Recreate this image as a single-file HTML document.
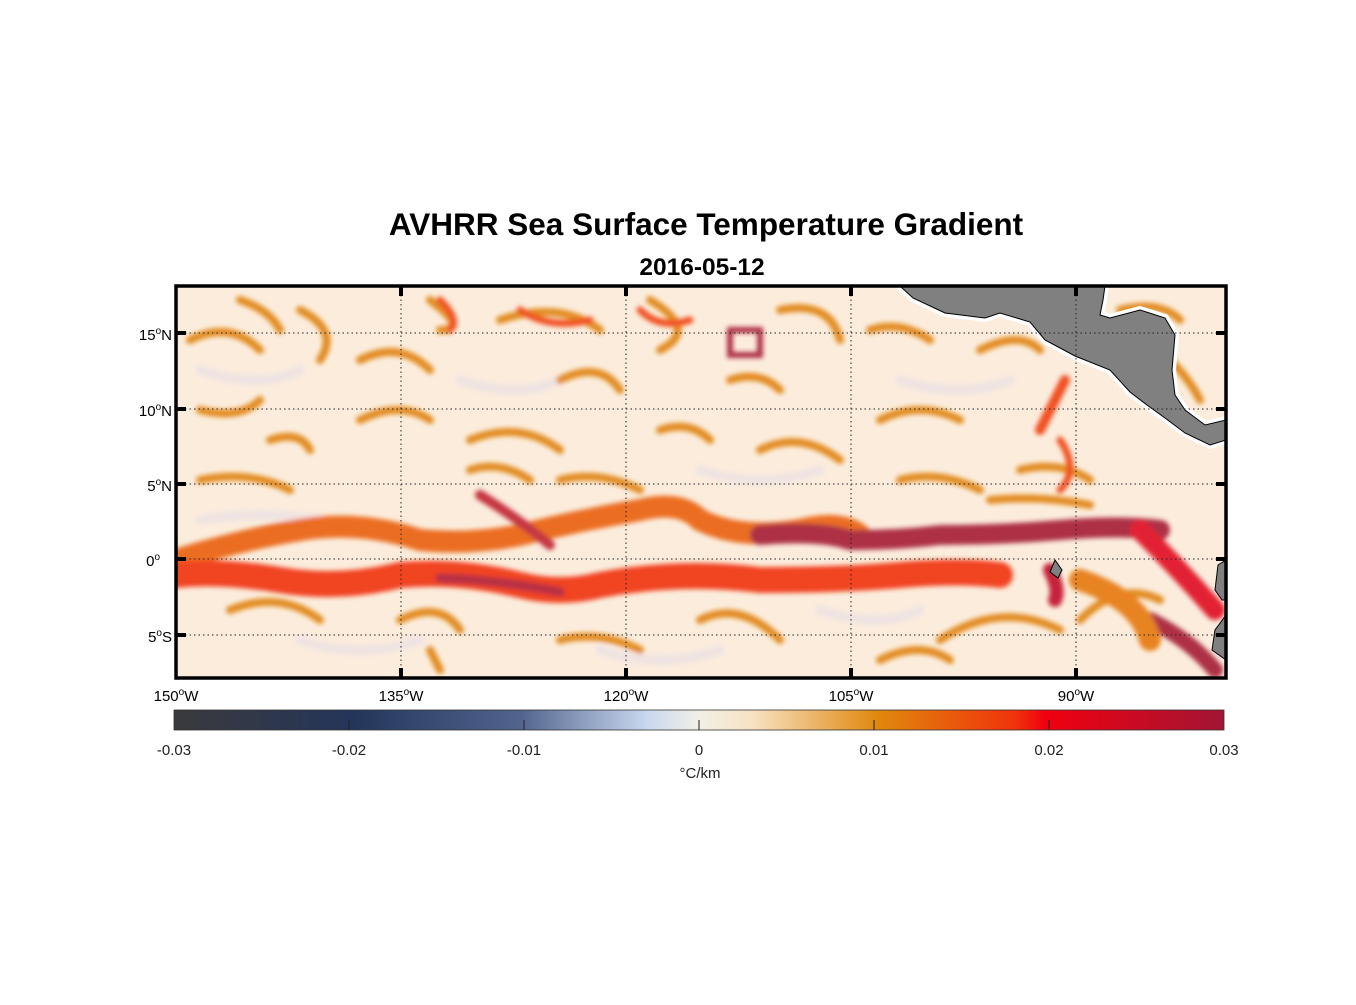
<!DOCTYPE html>
<html><head><meta charset="utf-8"><style>
body{margin:0;background:#fff;width:1356px;height:1000px;overflow:hidden;font-family:"Liberation Sans",sans-serif}
</style></head><body>
<svg width="1356" height="1000" xmlns="http://www.w3.org/2000/svg" font-family="Liberation Sans, sans-serif">
<defs>
<filter id="b" x="-10%" y="-50%" width="120%" height="200%"><feGaussianBlur stdDeviation="2.5"/></filter>
<linearGradient id="cb" x1="0" x2="1">
<stop offset="0" stop-color="#3a3a3c"/><stop offset="0.17" stop-color="#24355a"/><stop offset="0.33" stop-color="#52648e"/>
<stop offset="0.45" stop-color="#c8d8ee"/><stop offset="0.5" stop-color="#f2efe6"/><stop offset="0.55" stop-color="#f7e2c4"/>
<stop offset="0.67" stop-color="#e0880e"/><stop offset="0.8" stop-color="#f0340a"/><stop offset="0.83" stop-color="#f00010"/>
<stop offset="1" stop-color="#a21535"/></linearGradient>
<clipPath id="c"><rect x="176" y="286" width="1050" height="392"/></clipPath>
</defs>
<text x="706" y="235" font-size="31.5" font-weight="bold" text-anchor="middle">AVHRR Sea Surface Temperature Gradient</text>
<text x="702" y="275" font-size="24.5" font-weight="bold" text-anchor="middle">2016-05-12</text>
<g clip-path="url(#c)">
<rect x="176" y="286" width="1050" height="392" fill="#fbecdc"/>
<g fill="none" stroke-linecap="round" filter="url(#b)" opacity="0.9">
<g stroke="#e8e0e6" stroke-width="10" opacity="0.7">
<path d="M200 370 Q260 390 300 370"/><path d="M460 380 Q520 400 560 380"/><path d="M700 470 Q760 490 820 470"/>
<path d="M900 380 Q960 400 1010 380"/><path d="M300 640 Q360 660 420 640"/><path d="M600 650 Q660 670 720 650"/>
<path d="M200 520 Q260 510 320 520"/><path d="M820 610 Q880 630 920 610"/>
</g>
<g stroke="#e0820f" stroke-width="8">
<path d="M190 340 Q230 320 260 350"/><path d="M300 310 Q340 330 320 360"/><path d="M430 300 Q470 330 440 330"/>
<path d="M500 320 Q560 300 600 330"/><path d="M650 300 Q700 330 660 350"/><path d="M780 310 Q830 300 840 340"/>
<path d="M200 410 Q240 420 260 400"/><path d="M270 440 Q300 430 310 450"/><path d="M360 420 Q400 400 430 420"/>
<path d="M470 440 Q520 420 560 450"/><path d="M660 430 Q690 420 710 440"/><path d="M760 450 Q800 430 840 460"/>
<path d="M880 420 Q920 400 960 420"/><path d="M980 350 Q1020 330 1040 350"/><path d="M1020 470 Q1060 460 1090 480"/>
<path d="M900 480 Q940 470 980 490"/><path d="M200 480 Q250 470 290 490"/><path d="M560 480 Q600 470 640 490"/>
<path d="M360 360 Q400 340 430 370"/><path d="M560 380 Q600 360 620 390"/><path d="M730 380 Q760 370 780 390"/>
<path d="M230 610 Q280 590 320 620"/><path d="M400 620 Q440 600 460 630"/><path d="M700 620 Q740 600 780 640"/>
<path d="M940 640 Q1000 600 1060 630"/><path d="M1080 620 Q1120 580 1160 600"/><path d="M880 660 Q920 640 950 660"/>
<path d="M430 650 L440 670"/><path d="M560 640 Q600 630 640 650"/>
<path d="M1120 310 Q1160 300 1180 320"/><path d="M1170 360 Q1190 380 1200 400"/><path d="M990 500 Q1040 495 1090 505"/>
<path d="M240 300 Q270 310 280 330"/><path d="M870 330 Q900 320 930 340"/><path d="M470 470 Q500 460 530 480"/>
</g>
<g stroke="#f04010" stroke-width="7">
<path d="M440 300 Q460 320 450 330"/><path d="M520 310 Q550 330 590 320"/><path d="M640 310 Q660 330 690 320"/>
<path d="M1040 430 L1065 380" stroke-width="10"/><path d="M1060 440 Q1080 470 1060 490"/>
</g>
<path d="M730 330 L760 330 L760 355 L730 355 Z" stroke="#a61b35" stroke-width="6"/>
<path d="M176 560 Q240 540 300 530 Q360 520 420 540 Q470 545 520 535 Q580 520 640 510 Q680 500 700 520 Q740 540 800 530 Q840 520 860 535" stroke="#ea6010" stroke-width="22"/>
<path d="M480 495 Q520 520 550 545" stroke="#c02030" stroke-width="10"/>
<path d="M760 535 Q820 530 850 540 Q900 540 940 535 Q1000 535 1060 530 Q1120 525 1160 530" stroke="#a51a36" stroke-width="20"/>
<path d="M176 575 Q220 570 280 580 Q340 590 400 575 Q460 570 520 585 Q560 595 600 585 Q680 570 760 580 Q840 580 900 575 Q960 570 1000 575" stroke="#f03010" stroke-width="26"/>
<path d="M440 578 Q500 580 560 592" stroke="#b01a34" stroke-width="9"/>
<path d="M1140 530 Q1180 570 1215 610" stroke="#e01020" stroke-width="20"/>
<path d="M1150 620 Q1190 640 1215 670" stroke="#a61b35" stroke-width="16"/>
<path d="M1050 570 Q1060 590 1055 600" stroke="#c0102a" stroke-width="14"/>
<path d="M1080 580 Q1140 600 1150 640" stroke="#e6780f" stroke-width="22"/>
</g>
<path d="M900 286 L913 298 L945 313 L985 318 L1000 313 L1030 322 L1045 340 L1075 356 L1110 370 L1130 392 L1147 405 L1165 418 L1185 433 L1210 445 L1226 440 L1226 420 L1205 425 L1185 410 L1175 395 L1172 370 L1175 335 L1165 318 L1140 310 L1110 318 L1100 315 L1103 300 L1105 286 Z" fill="#808080" stroke="#fff" stroke-width="8"/>
<path d="M900 286 L913 298 L945 313 L985 318 L1000 313 L1030 322 L1045 340 L1075 356 L1110 370 L1130 392 L1147 405 L1165 418 L1185 433 L1210 445 L1226 440 L1226 420 L1205 425 L1185 410 L1175 395 L1172 370 L1175 335 L1165 318 L1140 310 L1110 318 L1100 315 L1103 300 L1105 286 Z" fill="#808080" stroke="#000" stroke-width="1"/>
<path d="M1226 560 L1218 565 L1215 590 L1222 600 L1226 600 Z M1226 615 L1215 630 L1212 650 L1226 660 Z" fill="#808080" stroke="#000" stroke-width="1"/>
<path d="M1055 560 L1062 570 L1058 578 L1050 572 Z" fill="#808080" stroke="#000"/>
</g>
<g stroke="#222" stroke-width="1" stroke-dasharray="1.5,3">
<line x1="176" y1="333" x2="1226" y2="333"/><line x1="176" y1="409" x2="1226" y2="409"/><line x1="176" y1="484" x2="1226" y2="484"/>
<line x1="176" y1="559" x2="1226" y2="559"/><line x1="176" y1="635" x2="1226" y2="635"/>
<line x1="401" y1="286" x2="401" y2="678"/><line x1="626" y1="286" x2="626" y2="678"/><line x1="851" y1="286" x2="851" y2="678"/><line x1="1076" y1="286" x2="1076" y2="678"/>
</g>
<g stroke="#000" stroke-width="4">
<line x1="176" y1="333" x2="186" y2="333"/><line x1="176" y1="409" x2="186" y2="409"/><line x1="176" y1="484" x2="186" y2="484"/><line x1="176" y1="559" x2="186" y2="559"/><line x1="176" y1="635" x2="186" y2="635"/>
<line x1="1216" y1="333" x2="1226" y2="333"/><line x1="1216" y1="409" x2="1226" y2="409"/><line x1="1216" y1="484" x2="1226" y2="484"/><line x1="1216" y1="559" x2="1226" y2="559"/><line x1="1216" y1="635" x2="1226" y2="635"/>
<line x1="401" y1="286" x2="401" y2="296"/><line x1="626" y1="286" x2="626" y2="296"/><line x1="851" y1="286" x2="851" y2="296"/><line x1="1076" y1="286" x2="1076" y2="296"/>
<line x1="401" y1="668" x2="401" y2="678"/><line x1="626" y1="668" x2="626" y2="678"/><line x1="851" y1="668" x2="851" y2="678"/><line x1="1076" y1="668" x2="1076" y2="678"/>
</g>
<rect x="176" y="286" width="1050" height="392" fill="none" stroke="#000" stroke-width="3.5"/>
<g font-size="15" text-anchor="end">
<text x="172" y="340">15<tspan dy="-6" font-size="10">o</tspan><tspan dy="6">N</tspan></text>
<text x="172" y="416">10<tspan dy="-6" font-size="10">o</tspan><tspan dy="6">N</tspan></text>
<text x="172" y="491">5<tspan dy="-6" font-size="10">o</tspan><tspan dy="6">N</tspan></text>
<text x="160" y="566">0<tspan dy="-6" font-size="10">o</tspan></text>
<text x="172" y="642">5<tspan dy="-6" font-size="10">o</tspan><tspan dy="6">S</tspan></text>
</g>
<g font-size="15" text-anchor="middle">
<text x="176" y="701">150<tspan dy="-6" font-size="10">o</tspan><tspan dy="6">W</tspan></text>
<text x="401" y="701">135<tspan dy="-6" font-size="10">o</tspan><tspan dy="6">W</tspan></text>
<text x="626" y="701">120<tspan dy="-6" font-size="10">o</tspan><tspan dy="6">W</tspan></text>
<text x="851" y="701">105<tspan dy="-6" font-size="10">o</tspan><tspan dy="6">W</tspan></text>
<text x="1076" y="701">90<tspan dy="-6" font-size="10">o</tspan><tspan dy="6">W</tspan></text>
</g>
<rect x="174" y="710" width="1050" height="20" fill="url(#cb)" stroke="#333" stroke-width="0.8"/>
<g stroke="#222" stroke-width="1">
<line x1="349" y1="720" x2="349" y2="730"/><line x1="524" y1="720" x2="524" y2="730"/><line x1="699" y1="720" x2="699" y2="730"/><line x1="874" y1="720" x2="874" y2="730"/><line x1="1049" y1="720" x2="1049" y2="730"/>
</g>
<g font-size="15" text-anchor="middle" fill="#222">
<text x="174" y="755">-0.03</text><text x="349" y="755">-0.02</text><text x="524" y="755">-0.01</text><text x="699" y="755">0</text>
<text x="874" y="755">0.01</text><text x="1049" y="755">0.02</text><text x="1224" y="755">0.03</text>
<text x="700" y="778">°C/km</text>
</g>
</svg>
</body></html>
